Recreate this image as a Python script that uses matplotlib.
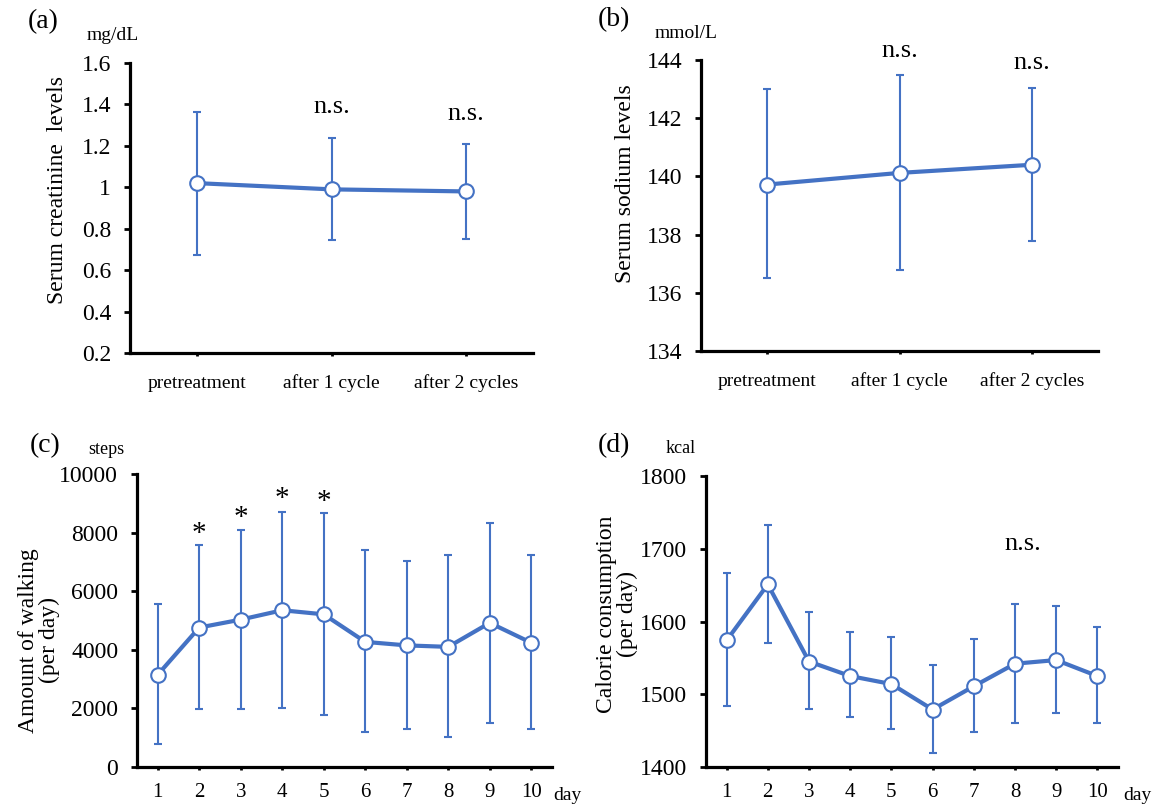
import matplotlib
matplotlib.use("Agg")
import matplotlib.pyplot as plt
import numpy as np

plt.rcParams['font.family'] = ['Liberation Serif', 'DejaVu Serif']

# ---- data ----
cycle_labels = ["pretreatment", "after 1 cycle", "after 2 cycles"]
creat_mean = [1.02, 0.99, 0.98]
creat_upper = [1.365, 1.24, 1.21]
creat_lower = [0.675, 0.745, 0.752]
sodium_mean = [139.72, 140.12, 140.40]
sodium_upper = [143.0, 143.5, 143.03]
sodium_lower = [136.5, 136.77, 137.78]

days = [1, 2, 3, 4, 5, 6, 7, 8, 9, 10]
steps_mean = [3150, 4760, 5030, 5350, 5210, 4270, 4150, 4100, 4920, 4240]
steps_upper = [5580, 7570, 8080, 8690, 8660, 7400, 7030, 7240, 8340, 7240]
steps_lower = [770, 1970, 1970, 2030, 1790, 1200, 1300, 1010, 1500, 1280]
kcal_mean = [1574, 1651, 1545, 1525, 1514, 1479, 1511, 1542, 1547, 1525]
kcal_upper = [1666, 1732, 1613, 1585, 1579, 1540, 1576, 1624, 1621, 1592]
kcal_lower = [1484, 1571, 1480, 1469, 1452, 1419, 1448, 1460, 1474, 1461]

star_days = [2, 3, 4, 5]
star_y = [7950, 8500, 9150, 9050]

BLUE = "#4472C4"
W, H = 1159, 805
fig = plt.figure(figsize=(W / 100, H / 100), dpi=100)


def axbox(l, r, t, b):
    return fig.add_axes([l / W, 1 - b / H, (r - l) / W, (b - t) / H])


def style(ax):
    for s in ["top", "right"]:
        ax.spines[s].set_visible(False)
    for s in ["left", "bottom"]:
        ax.spines[s].set_linewidth(2.3)
    ax.tick_params(axis="y", direction="out", width=2, length=4.5, colors="black",
                   labelsize=17, pad=9)
    ax.tick_params(axis="x", direction="out", width=2, length=2.5, colors="black")


def draw(ax, x, mean, up, lo):
    mean = np.array(mean)
    yerr = [mean - np.array(lo), np.array(up) - mean]
    ax.errorbar(x, mean, yerr=yerr, fmt="none", ecolor=BLUE, elinewidth=1.5,
                capsize=2.6, capthick=1.5, zorder=2)
    ax.plot(x, mean, color=BLUE, lw=3, marker="o", ms=10.5, mfc="white",
            mec=BLUE, mew=1.5, zorder=3)


# (a)
axa = axbox(130, 533, 63, 353)
xc = np.arange(len(cycle_labels))
draw(axa, xc, creat_mean, creat_upper, creat_lower)
axa.set_xlim(-0.5, 2.5)
axa.set_ylim(0.2, 1.6)
axa.set_yticks([0.2, 0.4, 0.6, 0.8, 1.0, 1.2, 1.4, 1.6])
axa.set_yticklabels(["0.2", "0.4", "0.6", "0.8", "1", "1.2", "1.4", "1.6"])
axa.set_xticks(xc)
axa.set_xticklabels(cycle_labels, fontsize=14)
style(axa)
axa.tick_params(axis="x", pad=13)
axa.set_ylabel("Serum creatinine  levels", fontsize=17)
axa.yaxis.set_label_coords(-0.153, 0.562)
axa.text(1, 1.39, "n.s.", ha="center", va="center", fontsize=19)
axa.text(2, 1.355, "n.s.", ha="center", va="center", fontsize=19)

# (b)
axb = axbox(701, 1098, 60, 351)
draw(axb, xc, sodium_mean, sodium_upper, sodium_lower)
axb.set_xlim(-0.5, 2.5)
axb.set_ylim(134, 144)
axb.set_yticks([134, 136, 138, 140, 142, 144])
axb.set_xticks(xc)
axb.set_xticklabels(cycle_labels, fontsize=14)
style(axb)
axb.tick_params(axis="x", pad=13)
axb.set_ylabel("Serum sodium levels", fontsize=17)
axb.yaxis.set_label_coords(-0.163, 0.574)
axb.text(1, 144.3, "n.s.", ha="center", va="center", fontsize=19)
axb.text(2, 143.9, "n.s.", ha="center", va="center", fontsize=19)

# (c)
axc = axbox(137, 552, 474, 767)
draw(axc, days, steps_mean, steps_upper, steps_lower)
axc.set_xlim(0.5, 10.5)
axc.set_ylim(0, 10000)
axc.set_yticks([0, 2000, 4000, 6000, 8000, 10000])
axc.set_xticks(days)
axc.set_xticklabels([str(d) for d in days], fontsize=15)
style(axc)
axc.tick_params(axis="x", pad=9)
axc.set_ylabel("Amount of walking\n(per day)", fontsize=17, linespacing=1.0)
axc.yaxis.set_label_coords(-0.186, 0.433)
for d, y in zip(star_days, star_y):
    axc.text(d, y, "*", ha="center", va="center", fontsize=21)

# (d)
axd = axbox(706, 1118, 476, 767)
draw(axd, days, kcal_mean, kcal_upper, kcal_lower)
axd.set_xlim(0.5, 10.5)
axd.set_ylim(1400, 1800)
axd.set_yticks([1400, 1500, 1600, 1700, 1800])
axd.set_xticks(days)
axd.set_xticklabels([str(d) for d in days], fontsize=15)
style(axd)
axd.tick_params(axis="x", pad=9)
axd.set_ylabel("Calorie consumption\n(per day)", fontsize=17, linespacing=1.0)
axd.yaxis.set_label_coords(-0.165, 0.526)
axd.text(8.2, 1707, "n.s.", ha="center", va="center", fontsize=19)

# figure texts
def ftext(x, y, s, size, **kw):
    fig.text(x / W, 1 - y / H, s, fontsize=size, ha="left", va="center", **kw)

ftext(28, 22, "(a)", 20)
ftext(87, 36, "mg/dL", 14)
ftext(598, 20, "(b)", 20)
ftext(655, 33, "mmol/L", 14)
ftext(30, 446, "(c)", 20)
ftext(88, 449, "steps", 13)
ftext(598, 446, "(d)", 20)
ftext(666, 448, "kcal", 13)
ftext(553, 795, "day", 14)
ftext(1123, 795, "day", 14)

fig.savefig("out.png", dpi=100)
